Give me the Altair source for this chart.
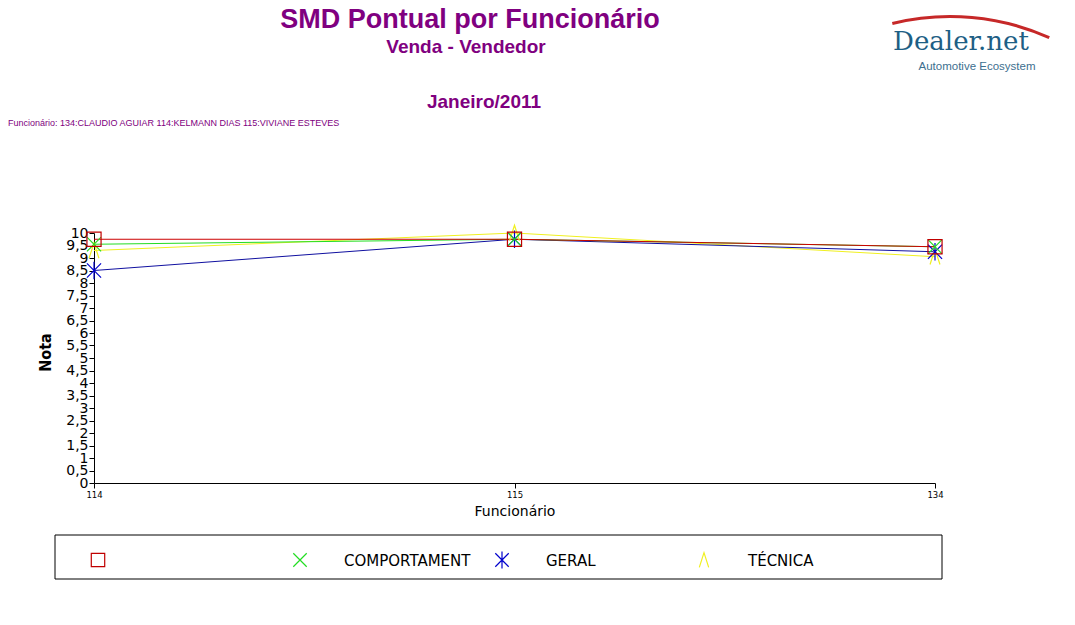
import altair as alt
import pandas as pd

# ---- data ----
funcionarios = ["114", "115", "134"]
series = ["", "COMPORTAMENT", "GERAL", "TÉCNICA"]
serie_vazia = [9.75, 9.75, 9.45]
comportament = [9.55, 9.75, 9.45]
geral = [8.5, 9.75, 9.25]
tecnica = [9.3, 10.0, 9.05]

titulo = "SMD Pontual por Funcionário"
subtitulo = "Venda - Vendedor"
periodo = "Janeiro/2011"
filtro = "Funcionário: 134:CLAUDIO AGUIAR 114:KELMANN DIAS 115:VIVIANE ESTEVES"
logo = "Dealer.net"
logo_sub = "Automotive Ecosystem"
y_ticks = [i / 2 for i in range(0, 21)]

rows = []
pairs = list(zip(series, [serie_vazia, comportament, geral, tecnica]))
for nome, vals in reversed(pairs):  # first series drawn last (on top)
    for f, v in zip(funcionarios, vals):
        rows.append({"Funcionário": f, "Nota": v, "Série": nome, "Linha": nome})
df = pd.DataFrame(rows)

# legend table built from the series list (one entry per series, evenly spaced)
legend_df = pd.DataFrame({
    "Série": series,
    "lx": [4 + 202 * i for i in range(len(series))],
    "tx": [48 + 202 * i for i in range(len(series))],
})

line_colors = ["#cc0000", "#22dd22", "#1010a0", "#f0f020"]
point_colors = ["#c00000", "#22dd22", "#0000cc", "#f0f020"]
shapes = [
    "square",
    "M-1,-1L1,1M-1,1L1,-1",
    "M-1,-1L1,1M-1,1L1,-1M0,-1.25L0,1.25",
    "M-0.7,1.1L0,-1.1L0.7,1.1",
]

purple = "#800080"
narrow = "Liberation Sans Narrow, DejaVu Sans Condensed, Liberation Sans"

color_scale = alt.Scale(domain=series, range=point_colors)
shape_scale = alt.Scale(domain=series, range=shapes)

x_enc = alt.X(
    "Funcionário:O",
    sort=funcionarios,
    scale=alt.Scale(type="point", padding=0),
    axis=alt.Axis(
        title="Funcionário", labelAngle=0, labelFont="DejaVu Sans", labelFontSize=8.5,
        labelColor="black", tickSize=5, tickColor="black", domainColor="black",
        labelPadding=2, titleFont="DejaVu Sans", titleFontSize=14, titleFontWeight="normal",
        titleColor="black", titlePadding=6,
    ),
)
y_enc = alt.Y(
    "Nota:Q",
    scale=alt.Scale(domain=[0, 10], nice=False, zero=True),
    axis=alt.Axis(
        title="Nota", values=y_ticks,
        labelExpr="replace(toString(datum.value), '.', ',')",
        labelOverlap=False, labelFlush=False, labelBound=False,
        labelFont="DejaVu Sans", labelFontSize=14, labelColor="black", labelPadding=1,
        tickSize=5, tickColor="black", domainColor="black",
        titleFont=narrow, titleFontSize=16, titleFontWeight="bold",
        titleColor="black", titleX=-44, titleY=119, titleAngle=270, titleAlign="center",
        titleBaseline="alphabetic",
    ),
)

base = alt.Chart(df)

lines = base.mark_line(strokeWidth=1).encode(
    x=x_enc,
    y=y_enc,
    stroke=alt.Stroke("Linha:N", scale=alt.Scale(domain=series, range=line_colors), legend=None),
    detail="Linha:N",
)

points = base.mark_point(filled=False, strokeWidth=1.2, size=200, opacity=1).encode(
    x=x_enc,
    y=y_enc,
    color=alt.Color("Série:N", scale=color_scale, legend=None),
    shape=alt.Shape("Série:N", scale=shape_scale, legend=None),
)

legend_symbols = alt.Chart(legend_df).mark_point(
    filled=False, strokeWidth=1.2, size=180, opacity=1
).encode(
    x=alt.X("lx:Q", scale=None, axis=None),
    y=alt.value(327),
    color=alt.Color("Série:N", scale=color_scale, legend=None),
    shape=alt.Shape("Série:N", scale=shape_scale, legend=None),
)

legend_labels = alt.Chart(legend_df).mark_text(
    font="DejaVu Sans", fontSize=15, color="black", align="left", baseline="middle"
).encode(
    x=alt.X("tx:Q", scale=None, axis=None),
    y=alt.value(328),
    text="Série:N",
)


def txt(s, x, y, size, color="black", weight="normal", font="Liberation Sans", align="center"):
    return alt.Chart(pd.DataFrame({"t": [s]})).mark_text(
        font=font, fontSize=size, fontWeight=weight, color=color, align=align,
        baseline="alphabetic",
    ).encode(text="t:N", x=alt.value(x), y=alt.value(y))


t1 = txt(titulo, 376, -205, 27, purple, "bold")
t2 = txt(subtitulo, 372, -180, 19, purple, "bold")
t3 = txt(periodo, 390, -125, 19, purple, "bold")
t4 = txt(filtro, -86, -107, 9, purple, "normal", align="left")
l1 = txt(logo, 867, -183, 26, "#1e5f85", "normal", font="DejaVu Serif")
l2 = txt(logo_sub, 883, -163, 11.5, "#3d6f8f", "normal")

swoosh = alt.Chart(pd.DataFrame({"t": [0]})).mark_arc(color="#c62828").encode(
    x=alt.value(856), y=alt.value(27),
    radius=alt.value(245), radius2=alt.value(242),
    theta=alt.value(6.044), theta2=alt.value(6.703),
)

legend_box = alt.Chart(pd.DataFrame({"t": [0]})).mark_rect(
    filled=False, stroke="black", strokeWidth=1
).encode(x=alt.value(-39), x2=alt.value(848), y=alt.value(302), y2=alt.value(346))

chart = alt.layer(
    legend_box, lines, points, legend_symbols, legend_labels,
    t1, t2, t3, t4, swoosh, l1, l2
).properties(
    width=841, height=250,
    padding={"left": 86, "top": 225, "right": 132, "bottom": 134},
    autosize=alt.AutoSizeParams(type="none"),
    background="white",
).configure_view(stroke=None).configure_axis(grid=False)

chart.save("out.html", embed_options={"renderer": "svg", "actions": False})
